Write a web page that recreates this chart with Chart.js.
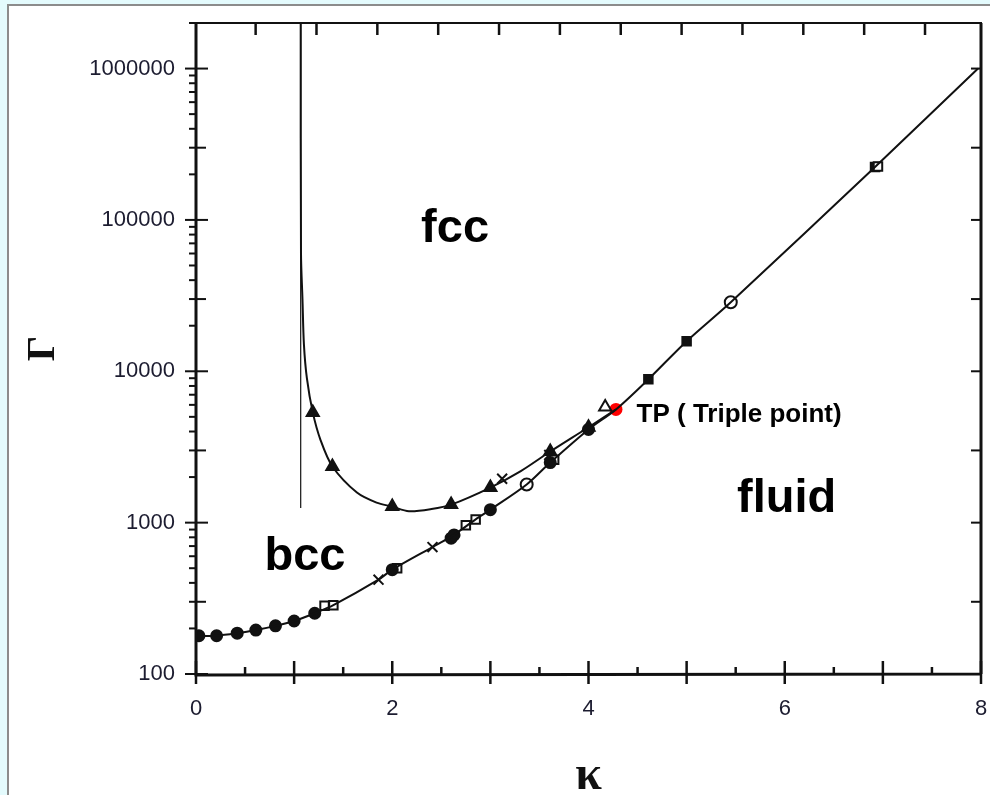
<!DOCTYPE html>
<html>
<head>
<meta charset="utf-8">
<script src="https://cdn.jsdelivr.net/npm/chart.js@4.4.1/dist/chart.umd.min.js"></script>
<style>
  html, body { margin: 0; padding: 0; background: #fff; }
</style>
</head>
<body>
<canvas id="phase" width="990" height="795"></canvas>
<script>
// --- values: kappa (x) and Gamma (y) ---

// vertical bcc / fcc boundary
const boundaryK = [1.067, 1.067];
const boundaryG = [2000000, 1250];

// fcc - bcc curve (triangles)
const upperK = [1.067, 1.07, 1.085, 1.1, 1.13, 1.19, 1.27, 1.39, 1.64, 1.84, 2.0, 2.17, 2.4, 2.6, 3.0, 3.31, 3.61, 4.0, 4.28];
const upperG = [2000000, 60000, 30000, 15000, 9000, 5350, 3500, 2350, 1580, 1356, 1276, 1190, 1230, 1316, 1706, 2190, 2950, 4270, 5600];

// melting curve (bcc - fluid, then fcc - fluid)
const lowerK = [0, 0.21, 0.42, 0.61, 0.81, 1.0, 1.21, 1.4, 1.86, 2.0, 2.41, 2.6, 2.85, 3.0, 3.37, 3.61, 4.0, 4.28, 4.61, 5.0, 5.45, 6.92, 7.97];
const lowerG = [178, 179, 186, 195, 208, 224, 252, 285, 420, 489, 690, 808, 1050, 1218, 1786, 2495, 4130, 5600, 8850, 15800, 28600, 224000, 1000000];

// simulation markers
const circleK = [0.03, 0.21, 0.42, 0.61, 0.81, 1.0, 1.21, 2.0, 2.6, 2.63, 3.0, 3.61, 4.0];
const circleG = [179, 179, 186, 195, 208, 224, 252, 489, 790, 830, 1218, 2495, 4130];

const triangleK = [1.19, 1.39, 2.0, 2.6, 3.0, 3.61, 4.0];
const triangleG = [5350, 2350, 1276, 1316, 1706, 2950, 4270];

const openSquareK = [1.31, 1.4, 2.05, 2.75, 2.85, 3.65, 6.95];
const openSquareG = [282, 285, 500, 960, 1050, 2600, 225000];

const crossK = [1.86, 2.41, 3.12, 3.6];
const crossG = [420, 690, 1950, 2800];

const openCircleK = [3.37, 5.45];
const openCircleG = [1786, 28600];

const filledSquareK = [4.61, 5.0, 6.92];
const filledSquareG = [8850, 15800, 224000];

const downTriK = [4.17];
const downTriG = [5800];

const tripleK = [4.28];
const tripleG = [5600];

// y tick labels shown only at decades
const yLabelValues = [100, 1000, 10000, 100000, 1000000];

// region labels
const regionLabels = [
    { text: 'fcc', k: 2.64, g: 71500 },
    { text: 'bcc', k: 1.11, g: 489 },
    { text: 'fluid', k: 6.02, g: 1183 }
];
const tpLabel = { text: 'TP ( Triple point)', k: 4.49, g: 5120 };

const pts = (ks, gs) => ks.map((k, i) => ({ x: k, y: gs[i] }));

const INK = '#111';

function lineSet(ks, gs, width) {
    return {
        data: pts(ks, gs), showLine: true, borderColor: INK, borderWidth: width,
        pointRadius: 0, tension: 0.3, fill: false
    };
}
function markerSet(ks, gs, style, filled, radius) {
    return {
        data: pts(ks, gs), showLine: false, pointStyle: style,
        pointRadius: radius, pointBorderWidth: 2,
        pointBorderColor: INK, pointBackgroundColor: filled ? INK : '#fff'
    };
}

// drop the extra room Chart.js keeps for overhanging labels
function noPad(s) {
    s.paddingLeft = 0; s.paddingRight = 0; s.paddingTop = 0; s.paddingBottom = 0;
}

// page frame, axes box, inner ticks and region texts
const framePlugin = {
    id: 'frame',
    beforeDraw(chart) {
        const c = chart.ctx;
        c.save();
        c.fillStyle = '#fff';
        c.fillRect(0, 0, chart.width, chart.height);
        c.fillStyle = '#e4fbfd';
        c.fillRect(0, 0, 7, chart.height);
        c.fillRect(0, 0, chart.width, 4);
        c.strokeStyle = '#8c8c8c';
        c.lineWidth = 2;
        c.beginPath();
        c.moveTo(8, chart.height); c.lineTo(8, 5); c.lineTo(chart.width, 5);
        c.stroke();
        c.restore();
    },
    afterDatasetsDraw(chart) {
        const c = chart.ctx;
        const a = chart.chartArea;
        const xs = chart.scales.x, ys = chart.scales.y, xt = chart.scales.x2;
        c.save();
        c.strokeStyle = INK;
        c.lineCap = 'butt';

        // box
        c.lineWidth = 3;
        c.beginPath();
        c.moveTo(a.left, a.top); c.lineTo(a.left, a.bottom + 1); c.lineTo(a.right + 1, a.bottom);
        c.lineTo(a.right, a.bottom); c.lineTo(a.right, a.top);
        c.stroke();
        c.lineWidth = 2;
        c.beginPath();
        c.moveTo(a.left, a.top); c.lineTo(a.right + 1, a.top);
        c.stroke();

        // bottom ticks
        c.lineWidth = 2.5;
        for (let k = 0; k <= 8; k += 0.5) {
            const px = xs.getPixelForValue(k);
            c.beginPath();
            if (Number.isInteger(k)) { c.moveTo(px, a.bottom - 13); c.lineTo(px, a.bottom + 10); }
            else { c.moveTo(px, a.bottom - 7); c.lineTo(px, a.bottom); }
            c.stroke();
        }
        // top ticks (separate top scale)
        for (let k = 0; k <= 11; k++) {
            const px = xt.getPixelForValue(k);
            c.beginPath(); c.moveTo(px, a.top); c.lineTo(px, a.top + 12); c.stroke();
        }
        // left / right ticks
        c.lineWidth = 2;
        for (let d = 2; d <= 6; d++) {
            for (let m = 1; m <= 9; m++) {
                const v = m * Math.pow(10, d);
                if (v > ys.max) continue;
                const py = ys.getPixelForValue(v);
                c.beginPath();
                if (m === 1) { c.moveTo(a.left - 11, py); c.lineTo(a.left + 12, py); }
                else if (m === 3) { c.moveTo(a.left - 7, py); c.lineTo(a.left + 10, py); }
                else { c.moveTo(a.left - 7, py); c.lineTo(a.left, py); }
                c.stroke();
                if (m === 1 || m === 3) {
                    c.beginPath(); c.moveTo(a.right, py); c.lineTo(a.right - 10, py); c.stroke();
                }
            }
        }

        // region texts
        c.fillStyle = '#000';
        c.font = 'bold 47px "Liberation Sans", Arial, sans-serif';
        c.textAlign = 'center';
        c.textBaseline = 'alphabetic';
        regionLabels.forEach(l => {
            c.fillText(l.text, xs.getPixelForValue(l.k), ys.getPixelForValue(l.g));
        });
        c.font = 'bold 26px "Liberation Sans", Arial, sans-serif';
        c.textAlign = 'left';
        c.textBaseline = 'middle';
        c.fillText(tpLabel.text, xs.getPixelForValue(tpLabel.k), ys.getPixelForValue(tpLabel.g));
        c.restore();
    }
};

const ctx = document.getElementById('phase').getContext('2d');
new Chart(ctx, {
    type: 'scatter',
    data: {
        datasets: [
            lineSet(boundaryK, boundaryG, 1.2),
            lineSet(upperK, upperG, 2),
            lineSet(lowerK, lowerG, 2),
            markerSet(circleK, circleG, 'circle', true, 5.5),
            markerSet(triangleK, triangleG, 'triangle', true, 7),
            markerSet(openSquareK, openSquareG, 'rect', false, 6),
            markerSet(crossK, crossG, 'crossRot', false, 7),
            markerSet(openCircleK, openCircleG, 'circle', false, 6),
            markerSet(filledSquareK, filledSquareG, 'rect', true, 6),
            markerSet(downTriK, downTriG, 'triangle', false, 7),
            {
                data: pts(tripleK, tripleG), showLine: false, pointStyle: 'circle',
                pointRadius: 6.5, pointBorderWidth: 0,
                pointBackgroundColor: '#ff0000', pointBorderColor: '#ff0000'
            }
        ]
    },
    options: {
        responsive: false,
        animation: false,
        devicePixelRatio: 1,
        layout: { padding: { top: 23, right: 5, left: 0, bottom: 0 } },
        plugins: { legend: { display: false }, tooltip: { enabled: false } },
        scales: {
            x: {
                type: 'linear', position: 'bottom', min: 0, max: 8,
                grid: { display: false, drawTicks: false },
                border: { display: false },
                ticks: {
                    stepSize: 2, padding: 22, color: '#1c1c30',
                    font: { family: '"Liberation Sans", Arial, sans-serif', size: 22 }
                },
                title: {
                    display: true, text: 'κ', color: INK,
                    padding: { top: 0, bottom: -6 },
                    font: { family: '"Liberation Serif", "Times New Roman", serif', size: 48, weight: 'bold', lineHeight: 1 }
                },
                afterFit: s => { s.height = 121; noPad(s); }
            },
            x2: {
                type: 'linear', position: 'top', min: -0.98, max: 11.92,
                grid: { display: false, drawTicks: false },
                border: { display: false },
                ticks: { display: false },
                afterFit: s => { s.height = 0; noPad(s); }
            },
            y: {
                type: 'logarithmic', min: 100, max: 2000000,
                grid: { display: false, drawTicks: false },
                border: { display: false },
                ticks: {
                    autoSkip: false, padding: 21, color: '#1c1c30',
                    font: { family: '"Liberation Sans", Arial, sans-serif', size: 22 },
                    callback: v => yLabelValues.includes(v) ? String(v) : ''
                },
                title: {
                    display: true, text: 'Γ', color: INK,
                    padding: { top: 24, bottom: 0 },
                    font: { family: '"Liberation Serif", "Times New Roman", serif', size: 40, weight: 'bold', lineHeight: 1 }
                },
                afterFit: s => { s.width = 196; noPad(s); }
            }
        }
    },
    plugins: [framePlugin]
});
</script>
</body>
</html>
